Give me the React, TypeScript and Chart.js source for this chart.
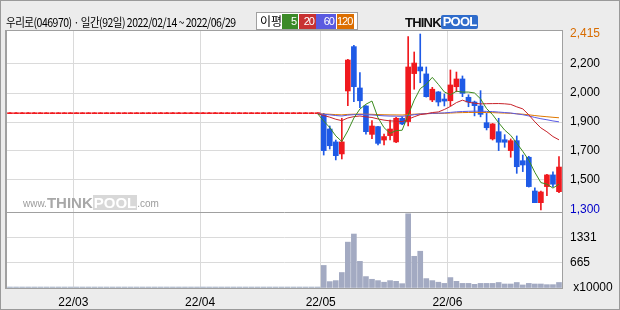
import React, { useEffect, useRef } from 'react';
import { Chart, registerables } from 'chart.js';

Chart.register(...registerables);

// ---------- data ----------
// trading dates in the window (2022/02/14 ~ 2022/06/29, 92 days)
const FEB_DAYS = [14, 15, 16, 17, 18, 21, 22, 23, 24, 25, 28];
const MAR_DAYS = [2, 3, 4, 7, 8, 10, 11, 14, 15, 16, 17, 18, 21, 22, 23, 24, 25, 28, 29, 30, 31];
const APR_DAYS = [1, 4, 5, 6, 7, 8, 11, 12, 13, 14, 15, 18, 19, 20, 21, 22, 25, 26, 27, 28];
const MAY_DAYS = [2, 3, 4, 6, 9, 10, 11, 12, 13, 16, 17, 18, 19, 20, 23, 24, 25, 26, 27, 30, 31];
const JUN_DAYS = [2, 3, 7, 8, 9, 10, 13, 14, 15, 16, 17, 20, 21, 22, 23, 24, 27, 28, 29];

// trading was halted until the end of April: flat price, no volume
const HALT_DAYS = 52;
const HALT_PRICE = 1910;
const PRIOR_CLOSE = 1910; // closes before the window (also halted)

// traded days (May 2 ~ Jun 29)
const OPEN = [1902, 1813, 1731, 1655, 2054, 2335, 2073, 1959, 1779, 1828, 1743, 1771, 1731, 1881, 1860, 2164, 2206, 2162, 1997, 2048, 2003, 1992, 2081, 2130, 2014, 1984, 1959, 1853, 1750, 1796, 1745, 1676, 1739, 1612, 1634, 1420, 1346, 1448, 1522, 1416];
const HIGH = [1912, 1832, 1743, 1881, 2255, 2343, 2170, 1962, 1866, 1830, 1781, 1870, 1887, 1890, 2398, 2301, 2415, 2206, 2077, 2050, 2035, 2187, 2174, 2149, 2030, 1990, 2056, 1912, 1848, 1881, 1777, 1750, 1769, 1648, 1640, 1440, 1420, 1525, 1541, 1638];
const LOW = [1648, 1686, 1617, 1623, 1961, 1986, 1948, 1781, 1752, 1712, 1712, 1743, 1726, 1840, 1832, 2065, 2106, 2015, 1986, 1959, 1959, 1959, 2049, 2018, 1954, 1896, 1890, 1807, 1743, 1676, 1697, 1634, 1532, 1543, 1445, 1346, 1300, 1391, 1448, 1410];
const CLOSE = [1676, 1707, 1644, 1731, 2250, 2081, 1992, 1796, 1832, 1722, 1765, 1813, 1881, 1845, 2206, 2231, 2181, 2018, 2065, 1984, 1990, 2092, 2130, 2039, 1984, 1961, 1906, 1821, 1845, 1729, 1729, 1739, 1574, 1585, 1448, 1346, 1414, 1522, 1463, 1572];
const VOLUME = [593, 168, 194, 407, 1205, 1418, 700, 300, 229, 194, 152, 194, 175, 114, 1950, 833, 966, 247, 194, 152, 121, 274, 175, 121, 121, 96, 121, 121, 121, 145, 105, 105, 145, 80, 121, 105, 105, 88, 88, 145];

const MA_PERIODS = [5, 20, 60, 120];
const MA_COLORS = ['#3C8C1E', '#C8232A', '#5A5AE6', '#E07800'];
const LEGEND_COLORS = ['#3C8A28', '#C83232', '#5A5AE0', '#DC6E00'];

// right axis labels
const PRICE_TICK_VALUES = [1300, 1490, 1674, 1857, 2041, 2225, 2415];
const PRICE_TICK_LABELS = ['1,300', '1,500', '1,700', '1,900', '2,000', '2,200', '2,415'];
const PRICE_MIN = 1287;
const PRICE_MAX = 2434;
const VOL_TICK_VALUES = [0, 665.5, 1331];
const VOL_TICK_LABELS = [' x10000', '665', '1331'];
const VOL_MAX = 1997;

// ---------- styles ----------
const UP = '#F0191E';
const DOWN = '#1E5AE6';
const VOL_COLOR = '#A3AAC2';
const BG = '#ECECEC';
const FRAME = '#A0A0A0';
const GRID = '#DADADA';

const pad2 = (n: number) => (n < 10 ? '0' + n : '' + n);
const DATES: string[] = [
  ...FEB_DAYS.map((d) => `2022/02/${pad2(d)}`),
  ...MAR_DAYS.map((d) => `2022/03/${pad2(d)}`),
  ...APR_DAYS.map((d) => `2022/04/${pad2(d)}`),
  ...MAY_DAYS.map((d) => `2022/05/${pad2(d)}`),
  ...JUN_DAYS.map((d) => `2022/06/${pad2(d)}`),
];

const haltArr = (v: number) => new Array(HALT_DAYS).fill(v);
const opens = [...haltArr(HALT_PRICE), ...OPEN];
const highs = [...haltArr(HALT_PRICE), ...HIGH];
const lows = [...haltArr(HALT_PRICE), ...LOW];
const closes = [...haltArr(HALT_PRICE), ...CLOSE];
const volumes = [...haltArr(0), ...VOLUME];

// month start indices (for grid lines and labels)
const MONTH_STARTS: { index: number; label: string }[] = [];
DATES.forEach((d, i) => {
  if (i > 0 && d.slice(5, 7) !== DATES[i - 1].slice(5, 7)) {
    MONTH_STARTS.push({ index: i, label: `22/${d.slice(5, 7)}` });
  }
});

function movingAverage(n: number): (number | null)[] {
  const start = HALT_DAYS - 1;
  return closes.map((_, i) => {
    if (i < start) return null;
    let s = 0;
    for (let k = i - n + 1; k <= i; k++) s += k < 0 ? PRIOR_CLOSE : closes[k];
    return s / n;
  });
}

const candleColors = closes.map((c, i) => (c >= opens[i] ? UP : DOWN));

const panelPlugin = {
  id: 'panels',
  beforeDraw(chart: any) {
    const { ctx, chartArea: a, width, height } = chart;
    ctx.save();
    ctx.fillStyle = BG;
    ctx.fillRect(0, 0, width, height);
    ctx.fillStyle = '#ffffff';
    ctx.fillRect(a.left, a.top, a.right - a.left, a.bottom - a.top);
    ctx.restore();
  },
  afterDraw(chart: any) {
    const { ctx, chartArea: a, width, height } = chart;
    const yv = chart.scales.yv;
    ctx.save();
    ctx.strokeStyle = FRAME;
    ctx.lineWidth = 1;
    ctx.strokeRect(a.left - 0.5, a.top - 0.5, a.right - a.left + 1, a.bottom - a.top + 1);
    ctx.beginPath();
    ctx.moveTo(a.left - 1.5, a.top - 1);
    ctx.lineTo(a.left - 1.5, a.bottom + 1);
    ctx.stroke();
    const sep = Math.round(yv.top) + 0.5;
    ctx.beginPath();
    ctx.moveTo(a.left, sep);
    ctx.lineTo(a.right, sep);
    ctx.stroke();
    ctx.strokeStyle = '#9A9A9A';
    ctx.strokeRect(0.5, 0.5, width - 1, height - 1);
    ctx.restore();
  },
};

const tickFont = { family: "'Liberation Sans', Arial, sans-serif", size: 12 };

export default function App() {
  const ref = useRef<HTMLCanvasElement | null>(null);

  useEffect(() => {
    if (!ref.current) return;
    const monthIdx = MONTH_STARTS.map((m) => m.index);
    const chart = new Chart(ref.current, {
      type: 'bar',
      data: {
        labels: DATES,
        datasets: [
          ...MA_PERIODS.map((p, k) => ({
            type: 'line' as const,
            label: `MA${p}`,
            data: movingAverage(p),
            borderColor: MA_COLORS[k],
            borderWidth: 1,
            pointRadius: 0,
            tension: 0,
            fill: false,
            yAxisID: 'y',
            order: 0,
          })),
          {
            type: 'bar' as const,
            label: 'body',
            data: opens.map((o, i) => [o, closes[i]]),
            backgroundColor: candleColors,
            barThickness: 5,
            minBarLength: 1,
            grouped: false,
            yAxisID: 'y',
            order: 1,
          },
          {
            type: 'bar' as const,
            label: 'wick',
            data: lows.map((l, i) => [l, highs[i]]),
            backgroundColor: candleColors,
            barThickness: 1,
            minBarLength: 1,
            grouped: false,
            yAxisID: 'y',
            order: 2,
          },
          {
            type: 'bar' as const,
            label: 'volume',
            data: volumes,
            backgroundColor: volumes.map((v) => (v > 0 ? VOL_COLOR : '#A8B4C8')),
            barThickness: 5,
            minBarLength: 1,
            grouped: false,
            yAxisID: 'yv',
            order: 3,
          },
        ] as any,
      },
      options: {
        responsive: false,
        animation: false,
        devicePixelRatio: 1,
        layout: { padding: { left: 7, top: 31, right: 0, bottom: 0 } },
        plugins: { legend: { display: false }, tooltip: { enabled: false } },
        scales: {
          x: {
            type: 'category',
            offset: true,
            border: { display: false },
            grid: {
              offset: true,
              drawTicks: false,
              color: (c: any) => (monthIdx.includes(c.index) ? GRID : 'rgba(0,0,0,0)'),
            },
            ticks: {
              autoSkip: false,
              maxRotation: 0,
              padding: 7,
              labelOffset: -3,
              color: '#000',
              font: tickFont,
              callback: (_v: any, i: number) => {
                const m = MONTH_STARTS.find((s) => s.index === i);
                return m ? m.label : '';
              },
            },
            afterFit: (s: any) => {
              s.height = 22;
            },
          },
          y: {
            type: 'linear',
            position: 'right',
            stack: 'main',
            stackWeight: 181,
            min: PRICE_MIN,
            max: PRICE_MAX,
            border: { display: false },
            grid: {
              drawTicks: false,
              color: (c: any) =>
                c.tick && (c.tick.value === 1300 || c.tick.value === 2415) ? 'rgba(0,0,0,0)' : GRID,
            },
            afterBuildTicks: (s: any) => {
              s.ticks = PRICE_TICK_VALUES.map((v) => ({ value: v }));
            },
            ticks: {
              autoSkip: false,
              padding: 8,
              font: tickFont,
              color: (c: any) =>
                c.tick && c.tick.value === 2415 ? '#D86C00' : c.tick && c.tick.value === 1300 ? '#0000C8' : '#000',
              callback: (v: any) => {
                const i = PRICE_TICK_VALUES.indexOf(Number(v));
                return i >= 0 ? PRICE_TICK_LABELS[i] : '';
              },
            },
            afterFit: (s: any) => {
              s.width = 58;
            },
          },
          yv: {
            type: 'linear',
            position: 'right',
            stack: 'main',
            stackWeight: 76,
            min: 0,
            max: VOL_MAX,
            border: { display: false },
            grid: {
              drawTicks: false,
              color: (c: any) => (c.tick && c.tick.value === 0 ? 'rgba(0,0,0,0)' : GRID),
            },
            afterBuildTicks: (s: any) => {
              s.ticks = VOL_TICK_VALUES.map((v) => ({ value: v }));
            },
            ticks: {
              autoSkip: false,
              padding: 8,
              font: tickFont,
              color: '#000',
              callback: (v: any) => {
                const i = VOL_TICK_VALUES.indexOf(Number(v));
                return i >= 0 ? VOL_TICK_LABELS[i] : '';
              },
            },
            afterFit: (s: any) => {
              s.width = 58;
            },
          },
        },
      } as any,
      plugins: [panelPlugin],
    });
    return () => chart.destroy();
  }, []);

  const legendBoxes = [
    { left: 282, width: 16, text: '5' },
    { left: 299, width: 17, text: '20' },
    { left: 316, width: 20, text: '60' },
    { left: 337, width: 17, text: '120' },
  ];

  return (
    <div
      style={{
        position: 'absolute',
        left: 0,
        top: 0,
        width: 620,
        height: 310,
        overflow: 'hidden',
        fontFamily: "'Noto Sans CJK KR', 'Noto Sans', sans-serif",
      }}
    >
      <canvas ref={ref} width={620} height={310} style={{ position: 'absolute', left: 0, top: 0 }} />
      <div
        style={{
          position: 'absolute',
          left: 6,
          top: 13,
          fontSize: 12,
          lineHeight: '18px',
          color: '#000',
          whiteSpace: 'nowrap',
          letterSpacing: '-0.6px',
          transform: 'scaleX(0.88)',
          transformOrigin: '0 0',
        }}
      >
        우리로(046970) · 일간(92일) 2022/02/14 ~ 2022/06/29
      </div>
      <div
        style={{
          position: 'absolute',
          left: 256,
          top: 12,
          width: 100,
          height: 16,
          border: '1px solid #A0A0A0',
          background: '#fff',
        }}
      />
      <div
        style={{
          position: 'absolute',
          left: 260,
          top: 12,
          fontSize: 12,
          lineHeight: '18px',
          color: '#000',
        }}
      >
        이평
      </div>
      {legendBoxes.map((b, k) => (
        <div
          key={k}
          style={{
            position: 'absolute',
            left: b.left,
            top: 14,
            width: b.width,
            height: 15,
            background: LEGEND_COLORS[k],
            color: '#fff',
            fontFamily: "'Liberation Sans', Arial, sans-serif",
            fontSize: 11,
            letterSpacing: '-1px',
            lineHeight: '15px',
            textAlign: 'right',
            paddingRight: 2,
            boxSizing: 'border-box',
            whiteSpace: 'nowrap',
          }}
        >
          {b.text}
        </div>
      ))}
      <div
        style={{
          position: 'absolute',
          left: 405,
          top: 14,
          height: 16,
          display: 'flex',
          alignItems: 'center',
          fontFamily: "'Liberation Sans', Arial, sans-serif",
          fontWeight: 700,
          fontSize: 13,
          letterSpacing: '-0.8px',
        }}
      >
        <span style={{ color: '#111' }}>THINK</span>
        <span
          style={{
            color: '#fff',
            background: '#2F6CCB',
            borderRadius: 2,
            padding: '0 2px',
            lineHeight: '14px',
          }}
        >
          POOL
        </span>
      </div>
      <div
        style={{
          position: 'absolute',
          left: 23,
          top: 194,
          display: 'flex',
          alignItems: 'flex-end',
          fontFamily: "'Liberation Sans', Arial, sans-serif",
          color: '#9C9C9C',
          pointerEvents: 'none',
          height: 16,
        }}
      >
        <span style={{ fontSize: 10, lineHeight: '12px' }}>www.</span>
        <span style={{ fontSize: 15, fontWeight: 700, lineHeight: '15px', color: '#A8A8A8' }}>THINK</span>
        <span
          style={{
            fontSize: 15,
            fontWeight: 700,
            lineHeight: '15px',
            color: '#fff',
            background: '#D8D8D8',
            padding: '0 1px',
          }}
        >
          POOL
        </span>
        <span style={{ fontSize: 10, lineHeight: '12px' }}>.com</span>
      </div>
    </div>
  );
}
